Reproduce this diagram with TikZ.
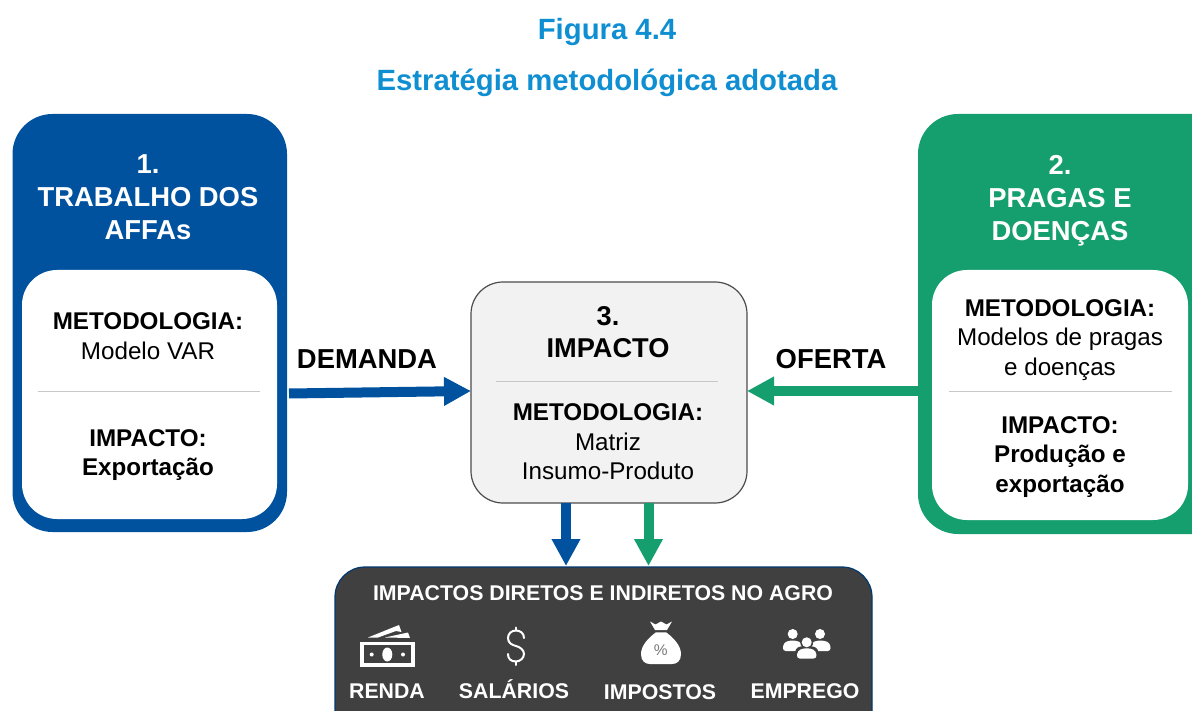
\documentclass[tikz,border=0pt]{standalone}
\usepackage{fontspec}
\setmainfont{Liberation Sans}
\usetikzlibrary{arrows.meta}
\definecolor{azul}{HTML}{00529F}
\definecolor{verde}{HTML}{159E6E}
\definecolor{titulo}{HTML}{0F8FD2}
\definecolor{escuro}{HTML}{404040}
\definecolor{claro}{HTML}{F2F2F2}
\tikzset{
  x=1pt,y=-1pt,
  txt/.style={inner sep=0pt,align=center,font=\fontsize{24.2}{32.5}\selectfont},
  head/.style={txt,text=white,font=\fontsize{27.4}{33}\selectfont\bfseries},
  foot/.style={inner sep=0pt,text=white,font=\fontsize{21.3}{24}\selectfont\bfseries},
  bluebox/.style={draw=none,fill=azul,rounded corners=40pt},
  greenbox/.style={draw=none,fill=verde,rounded corners=40pt},
  whitebox/.style={draw=none,fill=white,rounded corners=35pt},
  arr/.style={line width=10pt,-{Triangle[length=27pt,width=27pt]},shorten >=0pt},
  sep/.style={draw=black!22,line width=0.7pt},
}
\begin{document}
\begin{tikzpicture}
\useasboundingbox (0,0) rectangle (1192,711);
\clip (0,0) rectangle (1192,711);

% titles
\node[inner sep=0pt,text=titulo,font=\fontsize{29.3}{34}\selectfont\bfseries] (t1) at (607,32) {Figura 4.4};
\node[inner sep=0pt,text=titulo,font=\fontsize{29.3}{34}\selectfont\bfseries] (t2) at (607,83) {Estratégia metodológica adotada};

% left panel
\path[bluebox] (12.5,114) rectangle (287,532);
\path[whitebox] (22,270) rectangle (277,519);
\node[head] (h1) at (148,197.5) {1.\\TRABALHO DOS\\AFFAs};
\node[txt] (m1) at (148,336) {\textbf{METODOLOGIA:}\\[-3pt]Modelo VAR};
\draw[sep] (38,391) -- (260,391);
\node[txt] (i1) at (148,455) {\textbf{IMPACTO:}\\[-3pt]\textbf{Exportação}};

% right panel
\path[greenbox] (918,114) rectangle (1232,534);
\path[whitebox] (932,270) rectangle (1188,520);
\node[head] (h2) at (1060,201) {2.\\PRAGAS E\\DOENÇAS};
\node[txt] (m2) at (1060,340) {\textbf{METODOLOGIA:}\\[-3pt]Modelos de pragas\\[-3pt]e doenças};
\draw[sep] (949,391) -- (1172,391);
\node[txt] (i2) at (1060,457) {\textbf{IMPACTO:}\\[-3pt]\textbf{Produção e}\\[-3pt]\textbf{exportação}};

% centre panel
\draw[fill=claro,draw=black!70,line width=1.2pt,rounded corners=32pt] (471,282) rectangle (747,503);
\node[txt] (h3) at (608,332) {\fontsize{27.2}{33}\selectfont\textbf{3.}\\[-1pt]\fontsize{27.2}{33}\selectfont\textbf{IMPACTO}};
\draw[sep] (496,381) -- (718,381);
\node[txt] (m3) at (608,442) {\textbf{METODOLOGIA:}\\[-3pt]Matriz\\[-3pt]Insumo-Produto};

% labels
\node[inner sep=0pt,font=\fontsize{27.4}{30}\selectfont\bfseries] (dem) at (367,359) {DEMANDA};
\node[inner sep=0pt,font=\fontsize{27.4}{30}\selectfont\bfseries] (ofe) at (831,359) {OFERTA};

% bottom panel
\draw[fill=escuro,draw=azul!70!black,line width=1.2pt,rounded corners=30pt] (335,567) rectangle (872,750);
\node[foot] (bt) at (603,593) {IMPACTOS DIRETOS E INDIRETOS NO AGRO};
\node[foot] (f1) at (387,691) {RENDA};
\node[foot] (f2) at (514,689) {SALÁRIOS};
\node[foot] (f3) at (660,692) {IMPOSTOS};
\node[foot] (f4) at (805,691) {EMPREGO};

% connectors
\coordinate (a1s) at (289,393.5);
\coordinate (a1e) at (471,391);
\coordinate (a2s) at (918,391);
\coordinate (a2e) at (747,391);
\coordinate (a3s) at (566,503);
\coordinate (a3e) at (566,566);
\coordinate (a4s) at (648.5,503);
\coordinate (a4e) at (648.5,566);
\draw[arr,azul] (a1s) -- (a1e);
\draw[arr,verde] (a2s) -- (a2e);
\draw[arr,azul] (a3s) -- (a3e);
\draw[arr,verde] (a4s) -- (a4e);

% icon: banknotes
\draw[white,line width=3.6pt] (361.8,643.3) rectangle (413.2,665.2);
\fill[white] (387.3,654.5) ellipse (5pt and 7pt);
\fill[white] (371.7,654.5) circle (2pt);
\fill[white] (403,654.5) circle (2pt);
\fill[white] (368,637.5) -- (399,625) -- (401.5,632) -- (396,631) -- (378,637.5) -- cycle;
\fill[white] (385,637.5) -- (408,632.5) -- (410,638) -- cycle;

% icon: dollar
\draw[white,line width=2pt,line cap=round] (524,638) .. controls (524,633) and (520,630.5) .. (516,630.5)
  .. controls (511,630.5) and (508,634) .. (508,638)
  .. controls (508,643) and (512,645) .. (516,646)
  .. controls (520,647) and (524,650) .. (524,654)
  .. controls (524,658) and (520,661.5) .. (516,661.5)
  .. controls (511,661.5) and (508,659) .. (508,654);
\draw[white,line width=2pt,line cap=round] (516,627.5) -- (516,630.5);
\draw[white,line width=2pt,line cap=round] (516,661.5) -- (516,665);

% icon: money bag
\fill[white] (650,621.5) -- (655.5,624.5) -- (661,621.5) -- (666.5,624.5) -- (672,621.5) -- (667,630) -- (655,630) -- cycle;
\fill[white] (656,632.3) -- (666,632.3) .. controls (674,638) and (681,646) .. (681,654)
  .. controls (681,661) and (677,664) .. (672,664) -- (650,664)
  .. controls (645,664) and (641,661) .. (641,654)
  .. controls (641,646) and (648,638) .. (656,632.3) -- cycle;
\node[inner sep=0pt,text=escuro!70!white,font=\fontsize{15.5}{16}\selectfont] (pct) at (660.7,650) {\%};

% icon: people
\fill[white] (792.7,634) circle (5pt);
\fill[white] (820,634) circle (5pt);
\fill[white,rounded corners=3pt] (782.7,651) -- (783.5,643) -- (789,640.5) -- (796,640.5) -- (802,643) -- (803,651) -- cycle;
\fill[white,rounded corners=3pt] (810,651) -- (811,643) -- (817,640.5) -- (824,640.5) -- (830,643) -- (830.8,651) -- cycle;
\fill[escuro] (806.7,642.3) circle (6.5pt);
\path[fill=escuro,rounded corners=3pt] (794.5,660) -- (795.5,648.5) -- (801,646) -- (812,646) -- (818,648.5) -- (819,660) -- cycle;
\fill[white] (806.7,642.3) circle (5pt);
\fill[white,rounded corners=3pt] (796.7,658.5) -- (797.5,651) -- (803,648.3) -- (810.5,648.3) -- (816,651) -- (816.7,658.5) -- cycle;
\end{tikzpicture}
\end{document}
